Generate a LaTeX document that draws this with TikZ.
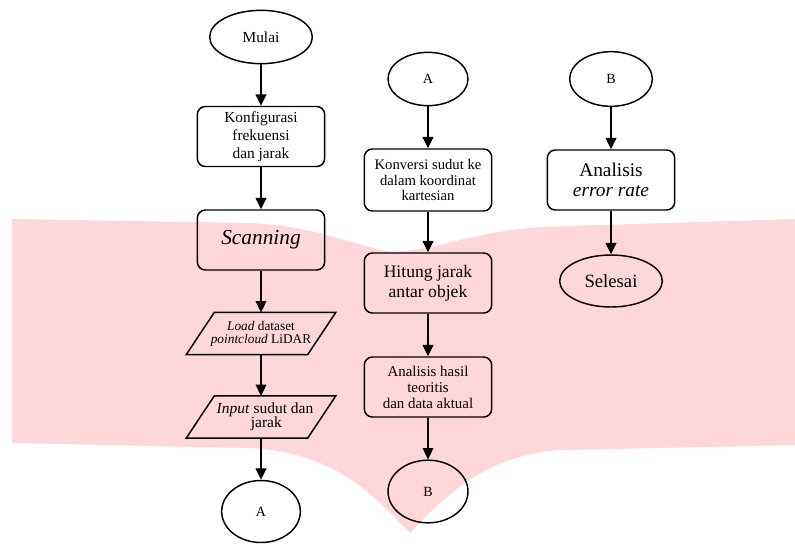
\documentclass[tikz,border=0pt]{standalone}
\usepackage{fontspec}
\setmainfont{Liberation Serif}
\usetikzlibrary{shapes.geometric,arrows.meta}
\definecolor{wm}{RGB}{255,214,218}
\begin{document}
\begin{tikzpicture}[x=0.75pt,y=-0.75pt,
  line width=1.1pt,
  arr/.style={-{Triangle[width=8pt,length=8.5pt]}},
  term/.style={ellipse,draw,inner sep=0pt,align=center},
  proc/.style={rectangle,rounded corners=6pt,draw,align=center,inner sep=0pt,
               minimum width=95.5pt,minimum height=45pt},
  iobox/.style={rectangle,inner sep=0pt,align=center,minimum width=111pt,minimum height=30.5pt},
  para/.style={line join=miter},
]
\useasboundingbox (0,0) rectangle (795,543);
% watermark
\fill[wm] (12,219) -- (250,223) .. controls (310,226) and (345,242) .. (390,252)
  .. controls (440,250) and (470,232) .. (540,227) -- (795,219)
  -- (795,445) -- (560,450) .. controls (490,455) and (450,490) .. (410,533)
  .. controls (370,490) and (330,452) .. (250,448) -- (12,443) -- cycle;

% left column
\node[term,minimum width=77pt,minimum height=40pt,font=\fontsize{11.5}{13}\selectfont] (mulai) at (261,37) {Mulai};
\node[proc,font=\fontsize{11.5}{13.5}\selectfont] (konf) at (261,136.5) {Konfigurasi\\frekuensi\\dan jarak};
\node[proc,font=\fontsize{16}{18}\selectfont] (scan) at (261,240) {\itshape Scanning};
\node[iobox,font=\fontsize{10}{9.6}\selectfont] (load) at (261,333.5) {\textit{Load} dataset\\\textit{pointcloud} LiDAR};
\node[iobox,font=\fontsize{11.6}{10.8}\selectfont] (inp) at (261,417) {\hspace*{6pt}\textit{Input} sudut dan\\\hspace*{8pt}jarak};
\node[term,minimum width=59pt,minimum height=46.5pt,font=\fontsize{10.5}{12}\selectfont] (a1) at (261,511.5) {A};
\draw[para] ([xshift=21pt]load.north west) -- (load.north east) -- ([xshift=-21pt]load.south east) -- (load.south west) -- cycle;
\draw[para] ([xshift=21pt]inp.north west) -- (inp.north east) -- ([xshift=-21pt]inp.south east) -- (inp.south west) -- cycle;

% middle column
\node[term,minimum width=60pt,minimum height=40pt,font=\fontsize{10.5}{12}\selectfont] (a2) at (428,79) {A};
\node[proc,minimum height=46.5pt,font=\fontsize{11}{11.3}\selectfont] (konv) at (428,180) {Konversi sudut ke\\dalam koordinat\\kartesian};
\node[proc,font=\fontsize{13.2}{15}\selectfont] (hit) at (428,283) {Hitung jarak\\antar objek};
\node[proc,font=\fontsize{11.2}{12}\selectfont] (anh) at (428,387) {Analisis hasil\\teoritis\\dan data aktual};
\node[term,minimum width=60pt,minimum height=47pt,font=\fontsize{10.5}{12}\selectfont] (b1) at (428,491.5) {B};

% right column
\node[term,minimum width=62pt,minimum height=41pt,font=\fontsize{10.5}{12}\selectfont] (b2) at (611,79) {B};
\node[proc,font=\fontsize{14.5}{15}\selectfont] (ane) at (611,180) {Analisis\\\textit{error rate}};
\node[term,minimum width=77pt,minimum height=39pt,font=\fontsize{14}{16}\selectfont] (sel) at (611,281) {Selesai};

% connectors
\draw[arr] (mulai) -- (konf);
\draw[arr] (konf) -- (scan);
\draw[arr] (scan) -- (load);
\draw[arr] (load) -- (inp);
\draw[arr] (inp) -- (a1);
\draw[arr] (a2) -- (konv);
\draw[arr] (konv) -- (hit);
\draw[arr] (hit) -- (anh);
\draw[arr] (anh) -- (b1);
\draw[arr] (b2) -- (ane);
\draw[arr] (ane) -- (sel);
\end{tikzpicture}
\end{document}
